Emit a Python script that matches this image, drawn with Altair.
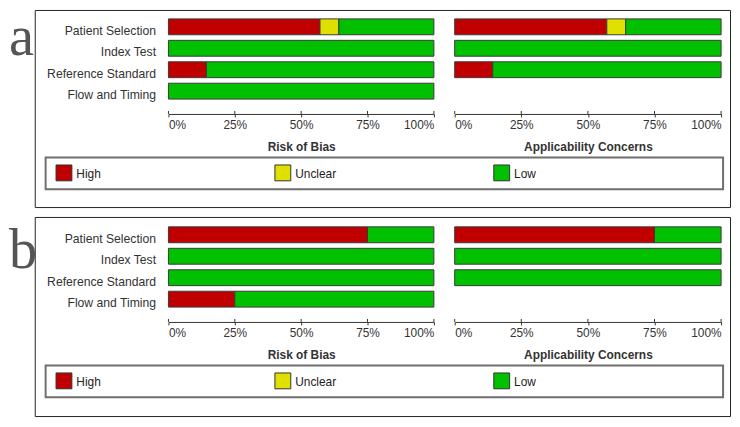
import altair as alt
import pandas as pd

# ---------------- data ----------------
categories = ["Patient Selection", "Index Test", "Reference Standard", "Flow and Timing"]
judgements = ["High", "Unclear", "Low"]
colors = ["#C00000", "#E0E000", "#00C000"]
panel_labels = ["a", "b"]
domain_titles = ["Risk of Bias", "Applicability Concerns"]
tick_values = [0, 25, 50, 75, 100]

# panel a (% of studies)
a_rob_high = [57.1, 0, 14.3, 0]
a_rob_unclear = [7.1, 0, 0, 0]
a_rob_low = [35.8, 100, 85.7, 100]
a_app_high = [57.1, 0, 14.3]
a_app_unclear = [7.1, 0, 0]
a_app_low = [35.8, 100, 85.7]

# panel b (% of studies)
b_rob_high = [75, 0, 0, 25]
b_rob_unclear = [0, 0, 0, 0]
b_rob_low = [25, 100, 100, 75]
b_app_high = [75, 0, 0]
b_app_unclear = [0, 0, 0]
b_app_low = [25, 100, 100]

# ---------------- layout ----------------
FONT = "Liberation Sans"
TEXT = "#333333"
W, H = 731, 411
X_RANGES = [(162, 430), (451, 720)]
PANEL_DY = [0, 210]
BAR_TOP, BAR_BOTTOM = 9, 90
AXIS_Y = 105
OUTER_Y = [(0.5, 199.5), (209.5, 410.5)]
OUTER_X = (27.5, 729.5)
LEG_X = (38, 722)
LEG_Y = (149, 181)
SWATCH_X = (56.5, 498.5)
SWATCH_Y = 164.5
LETTER_Y = [45, 261]


def frame(high, unclear, low):
    rows = []
    for i in range(len(high)):
        for r, (j, v) in enumerate(zip(judgements, (high[i], unclear[i], low[i]))):
            if v > 0:
                rows.append({"cat": categories[i], "judgement": j, "pct": v, "rank": r})
    return pd.DataFrame(rows)


panel_data = [
    [frame(a_rob_high, a_rob_unclear, a_rob_low), frame(a_app_high, a_app_unclear, a_app_low)],
    [frame(b_rob_high, b_rob_unclear, b_rob_low), frame(b_app_high, b_app_unclear, b_app_low)],
]

color_scale = alt.Scale(domain=judgements, range=colors)
one = pd.DataFrame({"k": [0]})
ticks_df = pd.DataFrame({"t": tick_values})
legend_df = pd.DataFrame({"judgement": judgements})

layers = []

for p in range(2):
    dy = PANEL_DY[p]
    # outer box
    layers.append(
        alt.Chart(one).mark_rect(fillOpacity=0, stroke="#222222", strokeWidth=1).encode(
            x=alt.value(OUTER_X[0]), x2=alt.value(OUTER_X[1]),
            y=alt.value(OUTER_Y[p][0]), y2=alt.value(OUTER_Y[p][1]))
    )
    # legend box
    layers.append(
        alt.Chart(one).mark_rect(fillOpacity=0, stroke="#6e6e6e", strokeWidth=2).encode(
            x=alt.value(LEG_X[0]), x2=alt.value(LEG_X[1]),
            y=alt.value(LEG_Y[0] + dy), y2=alt.value(LEG_Y[1] + dy))
    )
    # panel letter
    layers.append(
        alt.Chart(pd.DataFrame({"label": [panel_labels[p]]})).mark_text(
            font="Liberation Serif", fontSize=57, color="#555555", align="left",
            baseline="alphabetic").encode(
            x=alt.value(1), y=alt.value(LETTER_Y[p]), text="label:N")
    )
    for d in range(2):
        xr = list(X_RANGES[d])
        if d == 0:
            yaxis = alt.Axis(orient="left", offset=-xr[0], domain=False, ticks=False, grid=False,
                             labelPadding=13, labelFont=FONT, labelFontSize=12.3, labelColor=TEXT,
                             labelOffset=4, labelLimit=300, title=None)
        else:
            yaxis = None
        xaxis = alt.Axis(orient="bottom", offset=AXIS_Y + dy - H, values=tick_values,
                         labelExpr="datum.value + '%'", labelFlush=True, labelFlushOffset=0,
                         grid=False, domainColor=TEXT, tickColor=TEXT, tickSize=3, tickWidth=1,
                         domainWidth=1, labelPadding=3, labelFont=FONT, labelFontSize=12,
                         labelColor=TEXT, title=domain_titles[d], titleFont=FONT,
                         titleFontSize=12, titleFontWeight="bold", titleColor=TEXT,
                         titleY=37, titleBaseline="alphabetic")
        layers.append(
            alt.Chart(panel_data[p][d]).mark_bar(stroke="#3a3a3a", strokeWidth=1).encode(
                x=alt.X("pct:Q", stack="zero",
                        scale=alt.Scale(domain=[0, 100], range=xr), axis=xaxis),
                y=alt.Y("cat:N", scale=alt.Scale(domain=categories,
                                                 range=[BAR_TOP + dy, BAR_BOTTOM + dy],
                                                 paddingInner=0.26, paddingOuter=0),
                        axis=yaxis),
                color=alt.Color("judgement:N", scale=color_scale, legend=None),
                order=alt.Order("rank:Q"),
            )
        )
        # upward half of the tick marks
        layers.append(
            alt.Chart(ticks_df).mark_rule(color=TEXT, strokeWidth=1).encode(
                x=alt.X("t:Q", scale=alt.Scale(domain=[0, 100], range=xr), axis=None),
                y=alt.value(AXIS_Y + dy - 3), y2=alt.value(AXIS_Y + dy))
        )
    # legend swatches and labels
    layers.append(
        alt.Chart(legend_df).mark_square(size=256, opacity=1, stroke="#333333", strokeWidth=1).encode(
            x=alt.X("judgement:N", scale=alt.Scale(domain=judgements, range=list(SWATCH_X), padding=0),
                    axis=None),
            y=alt.value(SWATCH_Y + dy),
            color=alt.Color("judgement:N", scale=color_scale, legend=None))
    )
    layers.append(
        alt.Chart(legend_df).mark_text(align="left", baseline="middle", dx=12.5, font=FONT,
                                       fontSize=12, color="#222222").encode(
            x=alt.X("judgement:N", scale=alt.Scale(domain=judgements, range=list(SWATCH_X), padding=0),
                    axis=None),
            y=alt.value(SWATCH_Y + 1 + dy),
            text="judgement:N")
    )

chart = (
    alt.layer(*layers)
    .resolve_scale(x="independent", y="independent")
    .properties(width=W, height=H, autosize=alt.AutoSizeParams(type="none"), padding=0,
                background="white")
    .configure_view(strokeOpacity=0)
)

chart.save("out.html", embed_options={"renderer": "svg", "actions": False})
